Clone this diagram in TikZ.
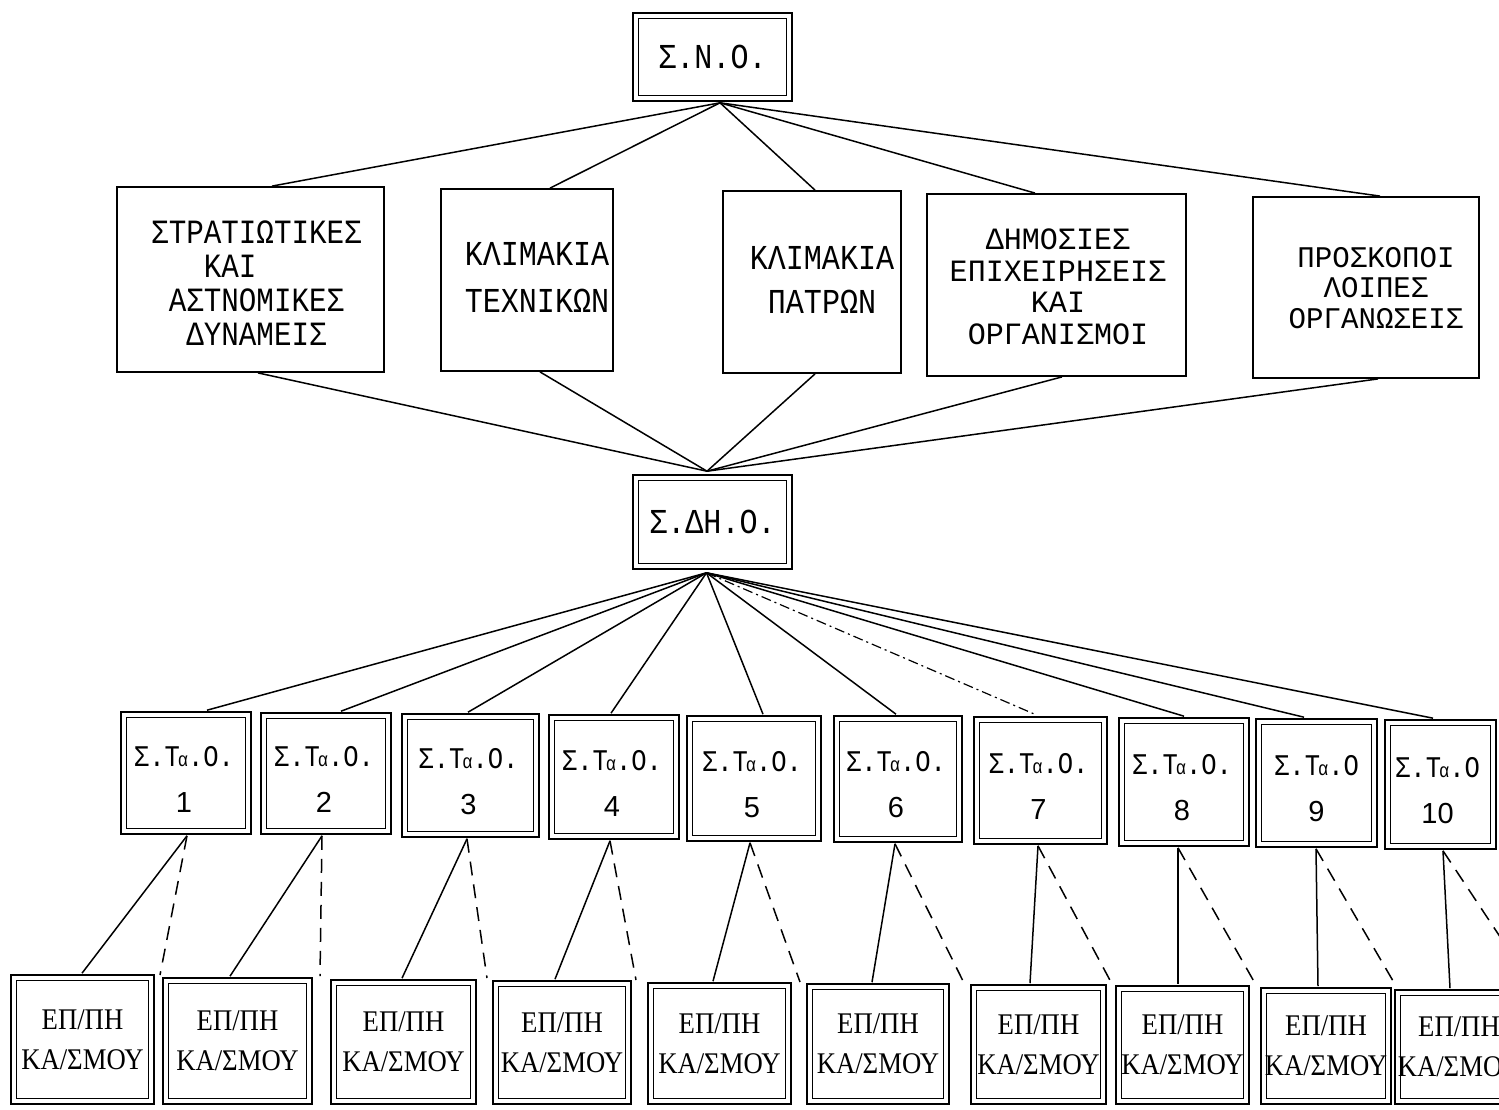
\documentclass[tikz,border=0pt]{standalone}
\usepackage{fontspec}
\setmainfont{Liberation Serif}
\newfontfamily\mono[FakeStretch=0.86]{Liberation Mono}
\newfontfamily\monob[FakeStretch=0.97]{Liberation Mono}
\newfontfamily\stomono[FakeStretch=0.85]{Liberation Mono}
\newfontfamily\serifc[FakeStretch=0.89]{Liberation Serif}
\newfontfamily\sansn{Liberation Sans}
\usetikzlibrary{calc}
\newcommand\stoname{{\stomono Σ.Τ\kern-2pt{\fontsize{20}{20}\selectfont α}.Ο.}}
\newcommand\stonamend{{\stomono Σ.Τ\kern-2pt{\fontsize{20}{20}\selectfont α}.Ο}}
\newcommand\stonum[1]{{\sansn\fontsize{29}{46}\selectfont #1}}
\tikzset{
  dbox/.style={draw, double, double distance=4pt, line width=1.6pt, inner sep=0pt},
  sbox/.style={draw, line width=1.8pt, inner sep=0pt},
  conn/.style={line width=1.5pt},
  dconn/.style={line width=1.5pt, dash pattern=on 14pt off 9pt},
  dotconn/.style={line width=1.2pt, dash pattern=on 10pt off 4pt on 2pt off 4pt},
  uptxt/.style={align=center, inner sep=0pt, font=\mono\fontsize{33}{33}\selectfont},
  stotxt/.style={align=center, inner sep=0pt, font=\fontsize{30}{46}\selectfont},
  botbox/.style={dbox, align=center, font=\serifc\fontsize{30}{40}\selectfont},
}
\begin{document}
\begin{tikzpicture}[x=1pt,y=-1pt]
\useasboundingbox (0,0) rectangle (1499,1109);
\clip (0,0) rectangle (1499,1109);
\fill[white] (0,0) rectangle (1499,1109);

% top
\node[dbox, minimum width=153.8pt, minimum height=82.8pt, font=\mono\fontsize{35}{35}\selectfont] (sno) at (712.5,57) {Σ.Ν.Ο.};

% middle row
\node[sbox, minimum width=267pt, minimum height=185pt] (m1) at (250.5,279.5) {};
\node[uptxt, font=\mono\fontsize{34}{34}\selectfont] (m1t) at (256.5,283) {ΣΤΡΑΤΙΩΤΙΚΕΣ\\ΚΑΙ\hphantom{ΚΑΙ}\\ΑΣΤΝΟΜΙΚΕΣ\\ΔΥΝΑΜΕΙΣ};
\node[sbox, minimum width=172pt, minimum height=182pt] (m2) at (527,280) {};
\node[uptxt, font=\mono\fontsize{35}{47}\selectfont] (m2t) at (537,277) {ΚΛΙΜΑΚΙΑ\\ΤΕΧΝΙΚΩΝ};
\node[sbox, minimum width=178pt, minimum height=182pt] (m3) at (812,282) {};
\node[uptxt, font=\mono\fontsize{35}{44}\selectfont] (m3t) at (822,280) {ΚΛΙΜΑΚΙΑ\\ΠΑΤΡΩΝ};
\node[sbox, minimum width=259pt, minimum height=182pt] (m4) at (1056.5,285) {};
\node[uptxt, font=\monob\fontsize{31}{31.5}\selectfont] (m4t) at (1058,287) {ΔΗΜΟΣΙΕΣ\\ΕΠΙΧΕΙΡΗΣΕΙΣ\\ΚΑΙ\\ΟΡΓΑΝΙΣΜΟΙ};
\node[sbox, minimum width=226pt, minimum height=181pt] (m5) at (1366,287.5) {};
\node[uptxt, font=\monob\fontsize{30}{30.5}\selectfont] (m5t) at (1376,288) {ΠΡΟΣΚΟΠΟΙ\\ΛΟΙΠΕΣ\\ΟΡΓΑΝΩΣΕΙΣ};

% centre
\node[dbox, minimum width=153.8pt, minimum height=88.8pt, font=\mono\fontsize{35}{35}\selectfont] (sdo) at (712.5,522) {Σ.ΔΗ.Ο.};

% STO row
\node[dbox, minimum width=124.8pt, minimum height=116.8pt] (s1) at (186,773) {};
\node[dbox, minimum width=124.8pt, minimum height=115.8pt] (s2) at (326,773.5) {};
\node[dbox, minimum width=131.8pt, minimum height=117.8pt] (s3) at (470.5,775.5) {};
\node[dbox, minimum width=124.8pt, minimum height=118.8pt] (s4) at (614,777) {};
\node[dbox, minimum width=128.8pt, minimum height=119.8pt] (s5) at (754,778.5) {};
\node[dbox, minimum width=122.8pt, minimum height=120.8pt] (s6) at (898,779) {};
\node[dbox, minimum width=127.8pt, minimum height=121.8pt] (s7) at (1040.5,780.5) {};
\node[dbox, minimum width=124.8pt, minimum height=122.8pt] (s8) at (1184,782) {};
\node[dbox, minimum width=115.8pt, minimum height=122.8pt] (s9) at (1316.5,783) {};
\node[dbox, minimum width=105.8pt, minimum height=123.8pt] (s10) at (1440.5,784.5) {};
\foreach \i in {1,...,8}
  \node[stotxt] (s\i t) at ($(s\i)+(-2,6)$) {\stoname\\\stonum{\i}};
\node[stotxt] (s9t) at ($(s9)+(0,6)$) {\stonamend\\\stonum{9}};
\node[stotxt] (s10t) at ($(s10)+(-3,6)$) {\stonamend\\\stonum{10}};

% bottom row
\node[botbox, minimum width=137.8pt, minimum height=123.8pt] (b1) at (82.5,1039.5) {ΕΠ/ΠΗ\\ΚΑ/ΣΜΟΥ};
\node[botbox, minimum width=143.8pt, minimum height=120.8pt] (b2) at (237.5,1041) {ΕΠ/ΠΗ\\ΚΑ/ΣΜΟΥ};
\node[botbox, minimum width=139.8pt, minimum height=118.8pt] (b3) at (403.5,1042) {ΕΠ/ΠΗ\\ΚΑ/ΣΜΟΥ};
\node[botbox, minimum width=132.8pt, minimum height=117.8pt] (b4) at (562,1042.5) {ΕΠ/ΠΗ\\ΚΑ/ΣΜΟΥ};
\node[botbox, minimum width=137.8pt, minimum height=115.8pt] (b5) at (719.5,1043.5) {ΕΠ/ΠΗ\\ΚΑ/ΣΜΟΥ};
\node[botbox, minimum width=136.8pt, minimum height=114.8pt] (b6) at (878,1044) {ΕΠ/ΠΗ\\ΚΑ/ΣΜΟΥ};
\node[botbox, minimum width=129.8pt, minimum height=113.8pt] (b7) at (1038.5,1044.5) {ΕΠ/ΠΗ\\ΚΑ/ΣΜΟΥ};
\node[botbox, minimum width=127.8pt, minimum height=112.8pt] (b8) at (1182.5,1045) {ΕΠ/ΠΗ\\ΚΑ/ΣΜΟΥ};
\node[botbox, minimum width=124.8pt, minimum height=110.8pt] (b9) at (1326,1046) {ΕΠ/ΠΗ\\ΚΑ/ΣΜΟΥ};
\node[botbox, minimum width=122.8pt, minimum height=108.8pt] (b10) at (1459,1047) {ΕΠ/ΠΗ\\ΚΑ/ΣΜΟΥ};

% connectors: top to middle row
\coordinate (snoB) at ($(sno.south)+(7.5,3.6)$);
\foreach \i/\a in {1/21.5,2/23,3/3,4/-21.5,5/14}
  \draw[conn] (snoB) -- ($(m\i.north)+(\a,0)$);

% middle row to centre
\coordinate (sdoT) at ($(sdo.north)+(-5.5,-5.6)$);
\foreach \i/\a in {1/7.5,2/13,3/3,4/5.5,5/12}
  \draw[conn] ($(m\i.south)+(\a,0)$) -- (sdoT);

% centre to STO row
\coordinate (sdoB) at ($(sdo.south)+(-6,5.6)$);
\foreach \i/\a in {1/21,2/15,3/-2.5,4/-3,5/9,6/-2,8/0,9/-12.5,10/-7.5}
  \draw[conn] (sdoB) -- ($(s\i.north)+(\a,-3.6)$);
\draw[dotconn] (sdoB) -- ($(s7.north)+(-3.5,-3.6)$);

% STO row to bottom row
\foreach \i/\a/\b/\dx/\dy in {1/1/-0.5/160/975, 2/-4/-7.5/320/976, 3/-3.5/-1.5/487/978,
    4/-4/-7/636/980, 5/-4/-6.5/800/982, 6/-3/-6/964/983, 7/-2.5/-8.5/1112/984,
    8/-6/-4.5/1256/985, 9/-0.5/-8/1396/986, 10/2.5/-9/1532/985} {
  \coordinate (d\i) at (\dx,\dy);
  \coordinate (st\i) at ($(s\i.south)+(\a,3.6)$);
  \draw[conn] (st\i) -- ($(b\i.north)+(\b,-3.6)$);
  \draw[dconn] (st\i) -- (d\i);
}
\end{tikzpicture}
\end{document}
